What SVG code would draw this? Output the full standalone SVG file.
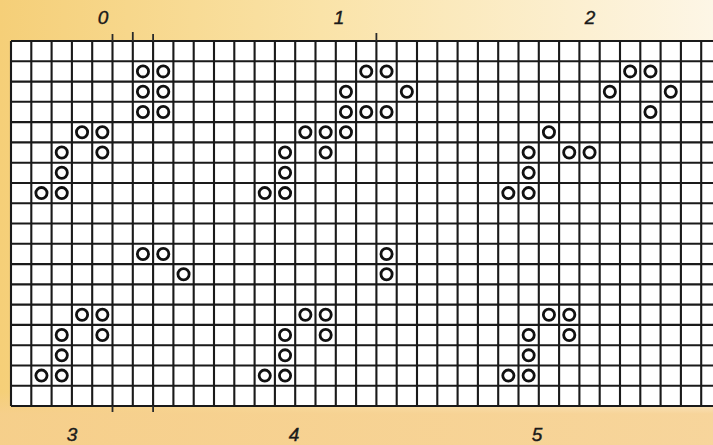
<svg xmlns="http://www.w3.org/2000/svg" xmlns:xlink="http://www.w3.org/1999/xlink" width="713" height="445" viewBox="0 0 713 445">
  <style>
    .grid { fill: none; stroke: #1a1a1a; stroke-width: 2.1; }
    .seam { fill: none; stroke: #2a2a2a; stroke-width: 1.8; }
    .lbl { font-family: "Liberation Sans", Arial, sans-serif; font-style: italic; font-size: 19px; fill: #1a1a1a; text-anchor: middle; stroke: #1a1a1a; stroke-width: 0.4; }
  </style>
  <defs>
    <linearGradient id="bg" x1="0" y1="0" x2="1" y2="0">
      <stop offset="0" stop-color="#f5cf78"/>
      <stop offset="0.45" stop-color="#fae3a8"/>
      <stop offset="1" stop-color="#fdf6e6"/>
    </linearGradient>
    <linearGradient id="bgv" x1="0" y1="0" x2="0" y2="1">
      <stop offset="0" stop-color="#f6cf8e" stop-opacity="0"/>
      <stop offset="0.88" stop-color="#f6cf8e" stop-opacity="0"/>
      <stop offset="0.93" stop-color="#f6cf8e" stop-opacity="0.85"/>
      <stop offset="1" stop-color="#f6cf8e" stop-opacity="0.85"/>
    </linearGradient>
    <circle id="o" r="5.6" fill="none" stroke="#111" stroke-width="2.8"/>
  </defs>

  <!-- background -->
  <rect x="0" y="0" width="713" height="445" fill="url(#bg)"/>
  <rect x="0" y="0" width="713" height="445" fill="url(#bgv)"/>
  <rect x="11" y="41" width="702" height="365" fill="#ffffff"/>

  <!-- grid -->
  <g id="grid">
    <path class="grid" d="M11,41 H713 M11,61.3 H713 M11,81.6 H713 M11,101.8 H713 M11,122.1 H713 M11,142.4 H713 M11,162.7 H713 M11,183 H713 M11,203.2 H713 M11,223.5 H713 M11,243.8 H713 M11,264.1 H713 M11,284.4 H713 M11,304.6 H713 M11,324.9 H713 M11,345.2 H713 M11,365.5 H713 M11,385.8 H713 M11,406 H713"/>
    <path class="grid" d="M11,41 V406 M31.3,41 V406 M51.6,41 V406 M71.9,41 V406 M92.2,41 V406 M112.5,41 V406 M132.8,41 V406 M153.1,41 V406 M173.4,41 V406 M193.7,41 V406 M214,41 V406 M234.3,41 V406 M254.6,41 V406 M274.9,41 V406 M295.2,41 V406 M315.5,41 V406 M335.8,41 V406 M356.1,41 V406 M376.4,41 V406 M396.7,41 V406 M417,41 V406 M437.3,41 V406 M457.6,41 V406 M477.9,41 V406 M498.2,41 V406 M518.5,41 V406 M538.8,41 V406 M559.1,41 V406 M579.4,41 V406 M599.7,41 V406 M620,41 V406 M640.3,41 V406 M660.6,41 V406 M680.9,41 V406 M701.2,41 V406"/>
    <path class="seam" d="M112.5,34 V41 M132.8,32 V41 M153.1,34 V41 M376.4,33 V41 M112.5,406 V412 M153.1,406 V412"/>
  </g>

  <!-- pattern 0 -->
  <g id="pattern-0">
    <text class="lbl" x="103" y="24">0</text>
    <use xlink:href="#o" x="142.95" y="71.42"/>
    <use xlink:href="#o" x="163.25" y="71.42"/>
    <use xlink:href="#o" x="142.95" y="91.7"/>
    <use xlink:href="#o" x="163.25" y="91.7"/>
    <use xlink:href="#o" x="142.95" y="111.98"/>
    <use xlink:href="#o" x="163.25" y="111.98"/>
    <use xlink:href="#o" x="82.05" y="132.26"/>
    <use xlink:href="#o" x="102.35" y="132.26"/>
    <use xlink:href="#o" x="61.75" y="152.54"/>
    <use xlink:href="#o" x="102.35" y="152.54"/>
    <use xlink:href="#o" x="61.75" y="172.82"/>
    <use xlink:href="#o" x="41.45" y="193.1"/>
    <use xlink:href="#o" x="61.75" y="193.1"/>
  </g>

  <!-- pattern 1 -->
  <g id="pattern-1">
    <text class="lbl" x="339" y="24">1</text>
    <use xlink:href="#o" x="366.25" y="71.42"/>
    <use xlink:href="#o" x="386.55" y="71.42"/>
    <use xlink:href="#o" x="345.95" y="91.7"/>
    <use xlink:href="#o" x="406.85" y="91.7"/>
    <use xlink:href="#o" x="345.95" y="111.98"/>
    <use xlink:href="#o" x="366.25" y="111.98"/>
    <use xlink:href="#o" x="386.55" y="111.98"/>
    <use xlink:href="#o" x="305.35" y="132.26"/>
    <use xlink:href="#o" x="325.65" y="132.26"/>
    <use xlink:href="#o" x="345.95" y="132.26"/>
    <use xlink:href="#o" x="285.05" y="152.54"/>
    <use xlink:href="#o" x="325.65" y="152.54"/>
    <use xlink:href="#o" x="285.05" y="172.82"/>
    <use xlink:href="#o" x="264.75" y="193.1"/>
    <use xlink:href="#o" x="285.05" y="193.1"/>
  </g>

  <!-- pattern 2 -->
  <g id="pattern-2">
    <text class="lbl" x="590" y="24">2</text>
    <use xlink:href="#o" x="630.15" y="71.42"/>
    <use xlink:href="#o" x="650.45" y="71.42"/>
    <use xlink:href="#o" x="609.85" y="91.7"/>
    <use xlink:href="#o" x="670.75" y="91.7"/>
    <use xlink:href="#o" x="650.45" y="111.98"/>
    <use xlink:href="#o" x="548.95" y="132.26"/>
    <use xlink:href="#o" x="528.65" y="152.54"/>
    <use xlink:href="#o" x="569.25" y="152.54"/>
    <use xlink:href="#o" x="589.55" y="152.54"/>
    <use xlink:href="#o" x="528.65" y="172.82"/>
    <use xlink:href="#o" x="508.35" y="193.1"/>
    <use xlink:href="#o" x="528.65" y="193.1"/>
  </g>

  <!-- pattern 3 -->
  <g id="pattern-3">
    <text class="lbl" x="72" y="441">3</text>
    <use xlink:href="#o" x="142.95" y="253.94"/>
    <use xlink:href="#o" x="163.25" y="253.94"/>
    <use xlink:href="#o" x="183.55" y="274.22"/>
    <use xlink:href="#o" x="82.05" y="314.78"/>
    <use xlink:href="#o" x="102.35" y="314.78"/>
    <use xlink:href="#o" x="61.75" y="335.06"/>
    <use xlink:href="#o" x="102.35" y="335.06"/>
    <use xlink:href="#o" x="61.75" y="355.34"/>
    <use xlink:href="#o" x="41.45" y="375.62"/>
    <use xlink:href="#o" x="61.75" y="375.62"/>
  </g>

  <!-- pattern 4 -->
  <g id="pattern-4">
    <text class="lbl" x="294" y="441">4</text>
    <use xlink:href="#o" x="386.55" y="253.94"/>
    <use xlink:href="#o" x="386.55" y="274.22"/>
    <use xlink:href="#o" x="305.35" y="314.78"/>
    <use xlink:href="#o" x="325.65" y="314.78"/>
    <use xlink:href="#o" x="285.05" y="335.06"/>
    <use xlink:href="#o" x="325.65" y="335.06"/>
    <use xlink:href="#o" x="285.05" y="355.34"/>
    <use xlink:href="#o" x="264.75" y="375.62"/>
    <use xlink:href="#o" x="285.05" y="375.62"/>
  </g>

  <!-- pattern 5 -->
  <g id="pattern-5">
    <text class="lbl" x="537" y="441">5</text>
    <use xlink:href="#o" x="548.95" y="314.78"/>
    <use xlink:href="#o" x="569.25" y="314.78"/>
    <use xlink:href="#o" x="528.65" y="335.06"/>
    <use xlink:href="#o" x="569.25" y="335.06"/>
    <use xlink:href="#o" x="528.65" y="355.34"/>
    <use xlink:href="#o" x="508.35" y="375.62"/>
    <use xlink:href="#o" x="528.65" y="375.62"/>
  </g>

  <g id="connectors"/>
</svg>
